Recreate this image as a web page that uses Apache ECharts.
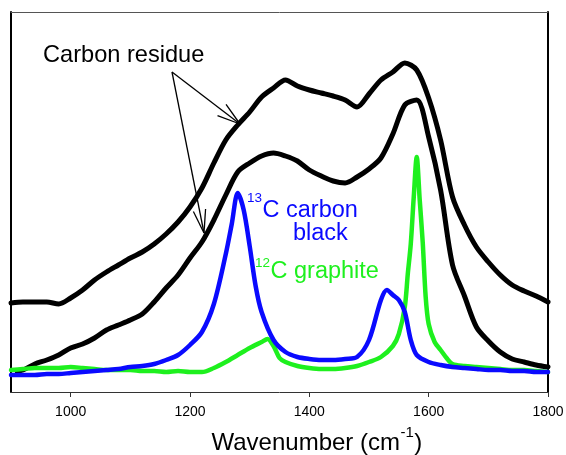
<!DOCTYPE html>
<html>
<head>
<meta charset="utf-8">
<script src="https://cdn.jsdelivr.net/npm/echarts@6/dist/echarts.min.js"></script>
<style>
html,body{margin:0;padding:0;background:#fff;}
#chart{width:566px;height:455px;}
</style>
</head>
<body>
<div id="chart"></div>
<script>
// x tick labels
const tickValues = [1000, 1200, 1400, 1600, 1800];

// Carbon residue (upper trace)
const upperWn = [900,920,940,960,980,1000,1020,1040,1060,1080,1100,1120,1140,1160,1180,1200,1220,1240,1260,1280,1300,1320,1340,1360,1380,1400,1420,1440,1460,1480,1500,1520,1540,1560,1580,1600,1620,1640,1660,1680,1700,1720,1740,1760,1780,1800];
const upperInt = [89,90,90,90,88,94,102,112,120,127,134,140,148,158,170,185,204,229,252,267,280,295,304,312,306,302,299,296,292,285,298,312,320,329,322,294,252,195,167,145,130,117,107,101,96,90];

// Carbon residue (lower trace)
const lowerWn = [910,920,940,960,980,1000,1020,1040,1060,1080,1100,1120,1140,1160,1180,1200,1220,1240,1260,1280,1300,1320,1340,1360,1380,1400,1420,1440,1460,1480,1500,1520,1540,1560,1580,1600,1620,1640,1660,1680,1700,1720,1740,1760,1780,1800];
const lowerInt = [21,22,28,32,37,44,48,54,62,67,72,78,90,104,117,134,150,172,197,220,229,236,239,236,231,222,216,211,209,215,223,234,258,287,292,255,202,127,96,65,51,40,33,30,27,25];

// 12C graphite
const graphiteWn = [900,920,940,960,980,1000,1020,1040,1060,1080,1100,1120,1140,1160,1180,1200,1220,1240,1260,1280,1300,1320,1330,1340,1350,1360,1380,1400,1420,1440,1460,1480,1500,1520,1540,1550,1560,1565,1570,1575,1580,1585,1590,1595,1600,1610,1620,1630,1640,1660,1680,1700,1720,1740,1760,1780,1800];
const graphiteInt = [22,23,24,24,24,25,24,23,22,22,22,21,21,20,21,20,20,24,30,37,44,50,53,46,34,30,26,24,23,23,24,26,30,35,46,58,85,118,148,195,235,192,150,95,68,50,42,34,28,26,25,24,23,22,22,21,20];

// 13C carbon black
const blackWn = [900,920,940,960,980,1000,1020,1040,1060,1080,1100,1120,1140,1160,1180,1200,1220,1240,1260,1270,1280,1290,1300,1310,1320,1340,1360,1380,1400,1420,1440,1460,1480,1500,1520,1530,1540,1550,1560,1570,1580,1600,1620,1640,1660,1680,1700,1720,1740,1760,1780,1800];
const blackInt = [17,17,17,18,18,19,20,21,22,23,25,26,28,32,37,47,60,88,138,168,199,182,146,106,80,52,40,35,33,32,32,33,35,52,92,102,97,92,80,52,37,30,27,25,24,23,22,22,21,21,20,20];

const FONT = '"Liberation Sans", Arial, sans-serif';
const zip = (xs, ys) => xs.map((x, i) => [x, ys[i]]);

const chart = echarts.init(document.getElementById('chart'), null, {renderer: 'canvas'});

const mctx = document.createElement('canvas').getContext('2d');
function tw(str, size) {
  mctx.font = size + 'px ' + FONT;
  return mctx.measureText(str).width;
}
function txt(str, x, y, size, color) {
  return {type: 'text', x: x, y: y, silent: true,
    style: {text: str, fill: color, fontSize: size, fontFamily: FONT, align: 'left', verticalAlign: 'middle'}};
}
function arrow(x0, y0, x1, y1, len, ang) {
  const a = Math.atan2(y0 - y1, x0 - x1);
  const els = [{type: 'line', silent: true, shape: {x1: x0, y1: y0, x2: x1, y2: y1}, style: {stroke: '#000', lineWidth: 1.3}}];
  [ang, -ang].forEach(d => {
    const t = a + d * Math.PI / 180;
    els.push({type: 'line', silent: true, shape: {x1: x1, y1: y1, x2: x1 + len * Math.cos(t), y2: y1 + len * Math.sin(t)}, style: {stroke: '#000', lineWidth: 1.3}});
  });
  return els;
}

const blue = '#0a0aff';
const green = '#1ef01e';

const graphics = [];
graphics.push(txt('Carbon residue', 43, 55.5, 23.6, '#000'));
graphics.push(...arrow(172, 72, 240, 124, 24, 17));
graphics.push(...arrow(172, 72, 204, 233, 24, 15));
// 13C carbon black
graphics.push(txt('13', 247, 198.5, 13.5, blue));
graphics.push(txt('C carbon', 247 + tw('13', 13.5) + 0.5, 210.8, 23.5, blue));
graphics.push(txt('black', 293, 233.5, 23.5, blue));
// 12C graphite
graphics.push(txt('12', 255, 263, 13.5, green));
graphics.push(txt('C graphite', 255 + tw('12', 13.5) + 0.5, 271.7, 23.5, green));
// axis title
const tx = 211.5;
const w1 = tw('Wavenumber (cm', 24);
graphics.push(txt('Wavenumber (cm', tx, 443.5, 24, '#000'));
graphics.push(txt('-1', tx + w1 + 0.5, 432.5, 15, '#000'));
graphics.push(txt(')', tx + w1 + tw('-1', 15) + 1, 443.5, 24, '#000'));

const lineSeries = (data, color, w) => ({
  type: 'line', data: data, showSymbol: false, symbol: 'none', smooth: 0.3,
  lineStyle: {color: color, width: w, cap: 'round', join: 'round'},
  xAxisIndex: 0, yAxisIndex: 0, silent: true
});

chart.setOption({
  animation: false,
  backgroundColor: '#fff',
  grid: {left: 11, right: 18, top: 12, bottom: 63, outerBoundsMode: 'none', containLabel: false},
  xAxis: [
    {type: 'value', position: 'bottom', min: 900, max: 1800,
      axisLine: {show: true, onZero: false, lineStyle: {color: '#333', width: 1}},
      axisTick: {show: true, inside: false, length: 5, customValues: tickValues, lineStyle: {color: '#333', width: 1}},
      axisLabel: {show: true, customValues: tickValues, margin: 13, fontSize: 14, fontFamily: FONT, color: '#000',
        formatter: v => String(v)},
      splitLine: {show: false}},
    {type: 'value', position: 'top', min: 900, max: 1800,
      axisLine: {show: true, onZero: false, lineStyle: {color: '#555', width: 1}},
      axisTick: {show: false}, axisLabel: {show: false}, splitLine: {show: false}}
  ],
  yAxis: [
    {type: 'value', position: 'left', min: 0, max: 380,
      axisLine: {show: true, onZero: false, lineStyle: {color: '#000', width: 2}},
      axisTick: {show: false}, axisLabel: {show: false}, splitLine: {show: false}},
    {type: 'value', position: 'right', min: 0, max: 380,
      axisLine: {show: true, onZero: false, lineStyle: {color: '#000', width: 2}},
      axisTick: {show: false}, axisLabel: {show: false}, splitLine: {show: false}}
  ],
  series: [
    lineSeries(zip(upperWn, upperInt), '#000', 5),
    lineSeries(zip(lowerWn, lowerInt), '#000', 5),
    lineSeries(zip(graphiteWn, graphiteInt), green, 4.5),
    lineSeries(zip(blackWn, blackInt), blue, 4.5)
  ],
  graphic: graphics
});
</script>
</body>
</html>
